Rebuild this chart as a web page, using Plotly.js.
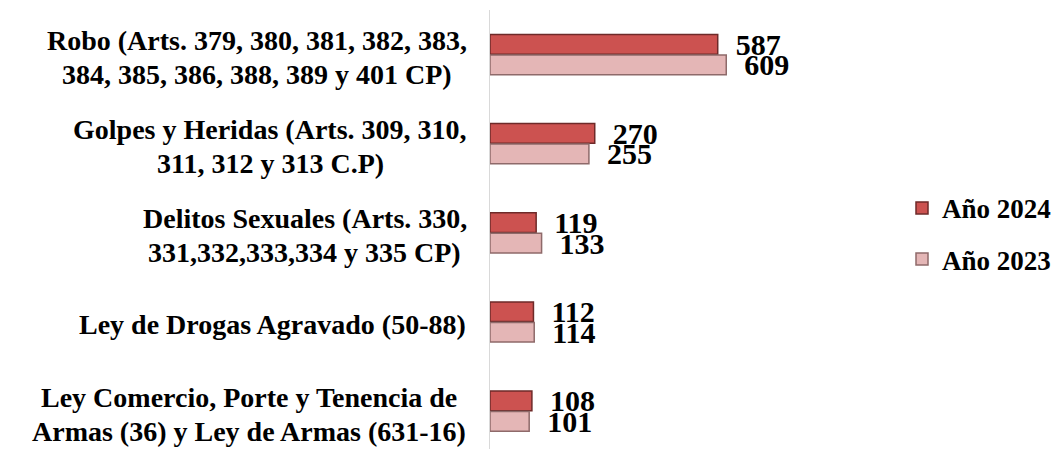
<!DOCTYPE html>
<html>
<head>
<meta charset="utf-8">
<script src="https://cdn.plot.ly/plotly-3.0.1.min.js"></script>
<style>html,body{margin:0;padding:0;background:#fff;}#chart{width:1061px;height:449px;}</style>
</head>
<body>
<div id="chart"></div>
<script>
const categories = [
  "Robo (Arts. 379, 380, 381, 382, 383,<br>384, 385, 386, 388, 389 y 401 CP)",
  "Golpes y Heridas (Arts. 309, 310,<br>311, 312 y 313 C.P)",
  "Delitos Sexuales (Arts. 330,<br>331,332,333,334 y 335 CP)",
  "Ley de Drogas Agravado (50-88)",
  "Ley Comercio, Porte y Tenencia de<br>Armas (36) y Ley de Armas (631-16)"
];
const seriesNames = ["Año 2024", "Año 2023"];
const values2024 = [587, 270, 119, 112, 108];
const values2023 = [609, 255, 133, 114, 101];

const fontFam = '"Liberation Serif", "Times New Roman", serif';
const labelSize = 28;
function mk(name, vals, color, lineColor, group) {
  return {
    type: 'bar', orientation: 'h', name: name, y: categories, x: vals,
    legendgroup: group,
    marker: {color: color, line: {color: lineColor, width: 1.5}},
    texttemplate: '\u00a0\u00a0%{x}',
    textposition: 'outside', constraintext: 'none', cliponaxis: false,
    textfont: {family: fontFam, size: 30, color: '#000', weight: 700},
    hoverinfo: 'x+y'
  };
}
const data = [
  mk(seriesNames[0], values2024, '#cc5250', '#6e2a29', 'a'),
  mk(seriesNames[1], values2023, '#e4b6b6', '#8e6a6a', 'b')
];
const marginL = 490, marginR = 211;
const plotW = 1061 - marginL - marginR;
const ctx = document.createElement('canvas').getContext('2d');
ctx.font = 'bold ' + labelSize + 'px "Liberation Serif"';
const rightPx = -23; // label block right edge relative to axis
const lineGap = 34;
const annotations = [];
categories.forEach(c => {
  const lines = c.split('<br>');
  const maxW = Math.max(...lines.map(l => ctx.measureText(l).width));
  const cx = (rightPx - maxW / 2) / plotW;
  lines.forEach((l, i) => {
    annotations.push({
      xref: 'paper', yref: 'y', x: cx, y: c, text: l,
      xanchor: 'center', yanchor: 'middle', showarrow: false,
      yshift: -(i - (lines.length - 1) / 2) * lineGap - 3,
      font: {family: fontFam, size: labelSize, color: '#000', weight: 700}
    });
  });
});
const layout = {
  width: 1061, height: 449,
  margin: {l: marginL, r: marginR, t: 10, b: 0},
  paper_bgcolor: '#fff', plot_bgcolor: '#fff',
  barmode: 'group', bargap: 0.54, bargroupgap: 0.04,
  showlegend: true,
  legend: {x: 902/1061, xref: 'container', y: 0.49, yanchor: 'middle', xanchor: 'left',
    font: {family: fontFam, size: 27, color: '#000', weight: 700},
    traceorder: 'grouped', tracegroupgap: 13, itemwidth: 30},
  annotations: annotations,
  xaxis: {range: [0, 928], visible: false, showgrid: false, zeroline: false, fixedrange: true},
  yaxis: {type: 'category', autorange: false, range: [4.425, -0.5],
    showline: true, linecolor: '#d9d9d9', linewidth: 1.5, showgrid: false, zeroline: false,
    ticks: '', showticklabels: false}
};
Plotly.newPlot('chart', data, layout, {displayModeBar: false, staticPlot: true});
</script>
</body>
</html>
